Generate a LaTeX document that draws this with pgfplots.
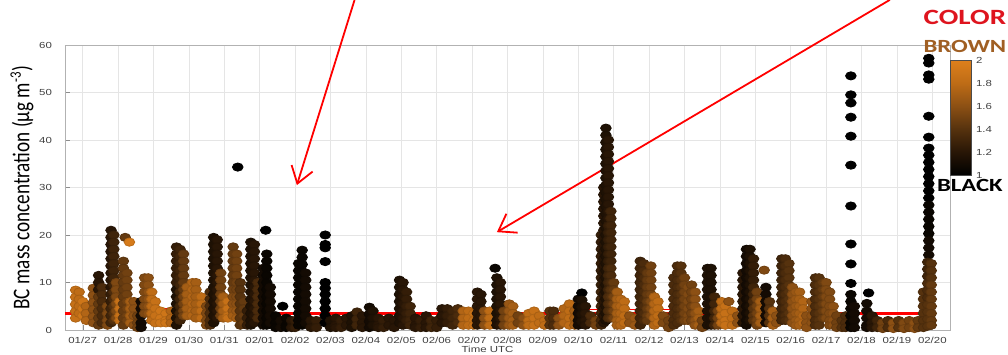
\documentclass[border=0pt]{standalone}
\usepackage{pgfplots}
\pgfplotsset{compat=1.18}
\usetikzlibrary{arrows.meta}
\usepackage{fontspec}
\setmainfont{Liberation Sans}
\newfontfamily\tickfont[FakeStretch=1.3]{Liberation Sans}
\newfontfamily\calib[FakeStretch=1.33]{Carlito}
\newfontfamily\ylabfont[FakeStretch=0.8]{Carlito}
\definecolor{brownlab}{RGB}{160,95,35}
\definecolor{redlab}{RGB}{222,20,30}
\pgfplotsset{
  colormap={blackbrown}{rgb255=(0,0,0) rgb255=(40,22,6) rgb255=(86,50,14) rgb255=(140,80,20) rgb255=(190,108,22) rgb255=(222,128,28)}
}
\begin{document}
\begin{tikzpicture}
\begin{axis}[
  scale only axis, width=442.5pt, height=142.5pt,
  xmin=-0.5, xmax=24.5, ymin=0, ymax=60,
  xtick={0,...,24},
  xticklabels={01/27,01/28,01/29,01/30,01/31,02/01,02/02,02/03,02/04,02/05,02/06,02/07,02/08,02/09,02/10,02/11,02/12,02/13,02/14,02/15,02/16,02/17,02/18,02/19,02/20},
  ytick={0,10,...,60},
  grid=major, grid style={black!10, line width=0.4pt},
  axis line style={black!30}, tick style={black!45},
  tick align=inside, major tick length=2.5pt,
  xtick pos=bottom, ytick pos=left,
  /pgf/number format/assume math mode=true,
  ticklabel style={font=\tickfont\fontsize{4.4}{5}\selectfont, text=black!75},
  xticklabel style={anchor=center, yshift=-5pt},
  yticklabel style={xshift=-3pt},
  xlabel={Time UTC},
  every axis x label/.style={at={(axis description cs:0.5,0)}, xshift=-10pt, yshift=-9.5pt, anchor=center, font=\tickfont\fontsize{4.4}{5}\selectfont, text=black!75},
  ylabel={BC mass concentration (µg m\textsuperscript{-3})},
  every axis y label/.style={at={(axis description cs:0,0.5)}, xshift=-21.5pt, rotate=90, anchor=center, font=\ylabfont\fontsize{12}{13}\selectfont},
  colormap name=blackbrown,
  point meta min=1, point meta max=2,
  colorbar,
  colorbar shift/.style={},
  colorbar style={at={(parent axis.north east)}, anchor=north west, xshift=0pt, yshift=-7.5pt,
    width=10.5pt, height=57.5pt, scale only axis,
    ytick={1,1.2,1.4,1.6,1.8,2},
    yticklabels={1,1.2,1.4,1.6,1.8,2},
    axis line style={black!70}, major tick length=0pt,
    yticklabel style={font=\tickfont\fontsize{4.4}{5}\selectfont, text=black!75, xshift=-1pt}},
  clip=false,
]
\addplot[scatter, only marks, mark=*, mark size=2.05pt, mark options={xscale=1.3},
  point meta=explicit,
  scatter/use mapped color={draw=mapped color!88!black, fill=mapped color}]
  table[row sep=\\, x=t, y=y, meta=c] {
t y c\\
-0.2 8.4 1.85\\ -0.2 6.9 1.85\\ -0.2 5.4 1.85\\ -0.2 3.9 1.85\\ -0.2 2.5 1.85\\
-0.1 8 1.8\\ -0.1 6.5 1.8\\ -0.1 5 1.8\\ -0.1 3.5 1.8\\
0 6 1.9\\ 0 4.5 1.9\\ 0 3 1.9\\
0.1 5 1.75\\ 0.1 3.5 1.75\\ 0.1 2 1.75\\
0.3 8.8 1.6\\ 0.3 7.3 1.6\\ 0.3 5.8 1.6\\ 0.3 4.3 1.6\\ 0.3 2.8 1.6\\ 0.3 1.5 1.6\\
0.45 11.5 1.2\\ 0.45 10 1.2\\ 0.45 8.5 1.2\\ 0.45 7 1.45\\ 0.45 5.5 1.45\\ 0.45 4 1.45\\ 0.45 2.5 1.45\\ 0.45 1 1.45\\
0.55 9 1.35\\ 0.55 7.5 1.35\\ 0.55 6 1.35\\ 0.55 4.5 1.35\\ 0.55 3 1.35\\ 0.55 1.5 1.35\\
0.7 5 1.55\\ 0.7 3.5 1.55\\ 0.7 2 1.55\\ 0.7 1 1.55\\
0.8 21 1.2\\ 0.8 19.5 1.2\\ 0.8 18 1.2\\ 0.8 16.5 1.2\\ 0.8 15 1.2\\ 0.8 13.5 1.2\\ 0.8 12 1.2\\ 0.8 10.5 1.2\\ 0.8 9 1.2\\ 0.8 7.5 1.25\\ 0.8 6 1.25\\ 0.8 4.5 1.3\\ 0.8 3 1.3\\ 0.8 1.5 1.3\\
0.88 20 1.3\\ 0.88 18.5 1.3\\ 0.88 17 1.3\\ 0.88 15.5 1.3\\ 0.88 14 1.3\\ 0.88 12.5 1.3\\ 0.88 11 1.3\\ 0.88 9.5 1.3\\ 0.88 8 1.35\\ 0.88 6.5 1.35\\ 0.88 5 1.4\\ 0.88 3.5 1.4\\ 0.88 2 1.4\\
0.95 10 1.55\\ 0.95 8.5 1.55\\ 0.95 7 1.55\\ 0.95 5.5 1.55\\ 0.95 4 1.55\\ 0.95 2.5 1.55\\
1.05 6 1.85\\ 1.05 4.5 1.85\\ 1.05 3 1.85\\ 1.05 2 1.85\\
1.15 14.5 1.45\\ 1.15 13 1.45\\ 1.15 11.5 1.45\\ 1.15 10 1.45\\ 1.15 8.5 1.45\\ 1.15 7 1.45\\ 1.15 5.5 1.45\\ 1.15 4 1.45\\ 1.15 2.5 1.45\\ 1.15 1 1.45\\
1.2 19.5 1.45\\
1.25 12 1.5\\ 1.25 10.5 1.5\\ 1.25 9 1.5\\ 1.25 7.5 1.5\\ 1.25 6 1.5\\ 1.25 4.5 1.5\\ 1.25 3 1.5\\ 1.25 2 1.5\\
1.32 18.5 1.95\\
1.35 6 1.7\\ 1.35 4.5 1.7\\ 1.35 3 1.7\\ 1.35 1.5 1.7\\
1.45 6 1.6\\ 1.45 4.5 1.6\\ 1.45 3 1.6\\ 1.45 1 1.6\\
1.55 3 1.5\\ 1.55 1.5 1.5\\ 1.55 0.5 1.5\\
1.65 6 1.1\\ 1.65 4.5 1.1\\ 1.65 3 1.1\\ 1.65 1.5 1.1\\ 1.65 0.5 1.1\\
1.75 11 1.55\\ 1.75 9.5 1.55\\ 1.75 8 1.55\\ 1.75 6.5 1.55\\ 1.75 5 1.55\\ 1.75 3.5 1.55\\
1.85 11 1.6\\ 1.85 9.5 1.6\\ 1.85 8 1.6\\ 1.85 6.5 1.6\\ 1.85 5 1.6\\ 1.85 3.5 1.6\\
1.95 8 1.8\\ 1.95 6.5 1.8\\ 1.95 5 1.8\\ 1.95 3.5 1.8\\ 1.95 2 1.8\\
2.05 6 1.85\\ 2.05 4.5 1.85\\ 2.05 3 1.85\\ 2.05 1.5 1.85\\
2.2 4 1.9\\ 2.2 2.5 1.9\\ 2.2 1.5 1.9\\
2.35 3.5 1.9\\ 2.35 2 1.9\\ 2.35 1.5 1.9\\
2.5 4 1.75\\ 2.5 2.5 1.75\\ 2.5 1.5 1.75\\
2.65 17.5 1.25\\ 2.65 16 1.25\\ 2.65 14.5 1.25\\ 2.65 13 1.25\\ 2.65 11.5 1.25\\ 2.65 10 1.25\\ 2.65 8.5 1.15\\ 2.65 7 1.15\\ 2.65 5.5 1.15\\ 2.65 4 1.15\\ 2.65 2.5 1.15\\ 2.65 1 1.15\\
2.75 17 1.3\\ 2.75 15.5 1.3\\ 2.75 14 1.3\\ 2.75 12.5 1.3\\ 2.75 11 1.3\\ 2.75 9.5 1.3\\ 2.75 8 1.3\\ 2.75 6.5 1.3\\ 2.75 5 1.3\\ 2.75 3.5 1.3\\ 2.75 2 1.3\\
2.85 16 1.45\\ 2.85 14.5 1.45\\ 2.85 13 1.45\\ 2.85 11.5 1.45\\ 2.85 10 1.45\\ 2.85 8.5 1.45\\ 2.85 7 1.5\\ 2.85 5.5 1.5\\ 2.85 4 1.5\\ 2.85 3 1.5\\
2.95 9 1.7\\ 2.95 7.5 1.7\\ 2.95 6 1.7\\ 2.95 4.5 1.7\\ 2.95 3 1.7\\
3.1 10 1.75\\ 3.1 8.5 1.75\\ 3.1 7 1.75\\ 3.1 5.5 1.75\\ 3.1 4 1.75\\ 3.1 3 1.75\\
3.2 10 1.7\\ 3.2 8.5 1.7\\ 3.2 7 1.7\\ 3.2 5.5 1.7\\ 3.2 4 1.7\\ 3.2 2.5 1.7\\
3.35 7 1.8\\ 3.35 5.5 1.8\\ 3.35 4 1.8\\ 3.35 2.5 1.8\\
3.5 5 1.55\\ 3.5 3.5 1.55\\ 3.5 2 1.55\\ 3.5 1 1.55\\
3.6 8 1.35\\ 3.6 6.5 1.35\\ 3.6 5 1.35\\ 3.6 3.5 1.35\\ 3.6 2 1.35\\ 3.6 1 1.35\\
3.7 19.5 1.15\\ 3.7 18 1.15\\ 3.7 16.5 1.15\\ 3.7 15 1.15\\ 3.7 13.5 1.15\\ 3.7 12 1.15\\ 3.7 10.5 1.15\\ 3.7 9 1.15\\ 3.7 7.5 1.15\\ 3.7 6 1.15\\ 3.7 4.5 1.15\\ 3.7 3 1.15\\ 3.7 1.5 1.15\\
3.8 19 1.2\\ 3.8 17.5 1.2\\ 3.8 16 1.2\\ 3.8 14.5 1.2\\ 3.8 13 1.2\\ 3.8 11.5 1.2\\ 3.8 10 1.2\\ 3.8 8.5 1.2\\ 3.8 7 1.2\\ 3.8 5.5 1.2\\ 3.8 4 1.2\\ 3.8 2.5 1.2\\
3.9 12 1.5\\ 3.9 10.5 1.5\\ 3.9 9 1.5\\ 3.9 7.5 1.5\\ 3.9 6 1.5\\ 3.9 4.5 1.5\\ 3.9 3 1.5\\
3.97 7 1.7\\ 3.97 5.5 1.7\\ 3.97 4 1.7\\ 3.97 2.5 1.7\\
4.1 6 1.85\\ 4.1 4.5 1.85\\ 4.1 3 1.85\\ 4.1 2.5 1.85\\
4.25 17.5 1.45\\ 4.25 16 1.45\\ 4.25 14.5 1.45\\ 4.25 13 1.45\\ 4.25 11.5 1.45\\ 4.25 10 1.45\\ 4.25 8.5 1.5\\ 4.25 7 1.55\\ 4.25 5.5 1.6\\ 4.25 4 1.65\\ 4.25 3 1.7\\
4.35 16 1.5\\ 4.35 14.5 1.5\\ 4.35 13 1.5\\ 4.35 11.5 1.5\\ 4.35 10 1.5\\ 4.35 8.5 1.5\\ 4.35 7 1.55\\ 4.35 5.5 1.6\\ 4.35 4 1.65\\ 4.35 2.5 1.7\\
4.38 34.3 1.0\\
4.45 10 1.4\\ 4.45 8.5 1.4\\ 4.45 7 1.4\\ 4.45 5.5 1.4\\ 4.45 4 1.4\\ 4.45 2.5 1.4\\ 4.45 1 1.4\\
4.55 6 1.45\\ 4.55 4.5 1.45\\ 4.55 3 1.45\\ 4.55 1.5 1.45\\
4.65 4 1.25\\ 4.65 2.5 1.25\\ 4.65 1 1.25\\
4.75 18.5 1.15\\ 4.75 17 1.15\\ 4.75 15.5 1.15\\ 4.75 14 1.15\\ 4.75 12.5 1.15\\ 4.75 11 1.15\\ 4.75 9.5 1.15\\ 4.75 8 1.15\\ 4.75 6.5 1.15\\ 4.75 5 1.15\\ 4.75 3.5 1.15\\ 4.75 2 1.15\\ 4.75 1 1.15\\
4.85 18 1.2\\ 4.85 16.5 1.2\\ 4.85 15 1.2\\ 4.85 13.5 1.2\\ 4.85 12 1.2\\ 4.85 10.5 1.2\\ 4.85 9 1.2\\ 4.85 7.5 1.2\\ 4.85 6 1.2\\ 4.85 4.5 1.2\\ 4.85 3 1.2\\ 4.85 1.5 1.2\\
4.95 10 1.35\\ 4.95 8.5 1.35\\ 4.95 7 1.35\\ 4.95 5.5 1.35\\ 4.95 4 1.35\\ 4.95 2.5 1.35\\
5.1 13 1.1\\ 5.1 11.5 1.1\\ 5.1 10 1.1\\ 5.1 8.5 1.1\\ 5.1 7 1.1\\ 5.1 5.5 1.1\\ 5.1 4 1.1\\ 5.1 2.5 1.1\\ 5.1 1 1.1\\
5.17 21 1.0\\
5.2 16 1.05\\ 5.2 14.5 1.05\\ 5.2 13 1.05\\ 5.2 11.5 1.05\\ 5.2 10 1.05\\ 5.2 8.5 1.05\\ 5.2 7 1.05\\ 5.2 5.5 1.05\\ 5.2 4 1.05\\ 5.2 2.5 1.05\\ 5.2 1 1.05\\
5.3 9 1.1\\ 5.3 7.5 1.1\\ 5.3 6 1.1\\ 5.3 4.5 1.1\\ 5.3 3 1.1\\ 5.3 1.5 1.1\\
5.45 3 1.05\\ 5.45 1.5 1.05\\ 5.45 0.5 1.05\\
5.6 2 1.1\\ 5.6 0.5 1.1\\
5.65 5 1.0\\
5.75 2.5 1.05\\ 5.75 1 1.05\\ 5.75 0.5 1.05\\
5.9 2 1.2\\ 5.9 0.5 1.2\\
6 2 1.25\\ 6 0.5 1.25\\
6.1 14 1.05\\ 6.1 12.5 1.05\\ 6.1 11 1.05\\ 6.1 9.5 1.05\\ 6.1 8 1.05\\ 6.1 6.5 1.05\\ 6.1 5 1.05\\ 6.1 3.5 1.05\\ 6.1 2 1.05\\ 6.1 1 1.05\\
6.2 16.8 1.05\\ 6.2 15.3 1.05\\ 6.2 13.8 1.05\\ 6.2 12.3 1.05\\ 6.2 10.8 1.05\\ 6.2 9.3 1.05\\ 6.2 7.8 1.05\\ 6.2 6.3 1.05\\ 6.2 4.8 1.05\\ 6.2 3.3 1.05\\ 6.2 1.8 1.05\\ 6.2 1 1.05\\
6.3 12 1.1\\ 6.3 10.5 1.1\\ 6.3 9 1.1\\ 6.3 7.5 1.1\\ 6.3 6 1.1\\ 6.3 4.5 1.1\\ 6.3 3 1.1\\ 6.3 1.5 1.1\\
6.45 2 1.2\\ 6.45 0.5 1.2\\
6.6 2 1.25\\ 6.6 0.5 1.25\\
6.85 20 1.0\\ 6.85 18 1.0\\ 6.85 17.3 1.0\\ 6.85 14.4 1.0\\ 6.85 10 1.0\\ 6.85 8.8 1.0\\ 6.85 7.5 1.0\\ 6.85 6 1.0\\ 6.85 4.5 1.0\\ 6.85 3 1.0\\ 6.85 1.5 1.0\\
7 2 1.15\\ 7 0.5 1.15\\
7.15 2.5 1.2\\ 7.15 1 1.2\\ 7.15 0.5 1.2\\
7.3 2 1.25\\ 7.3 0.5 1.25\\
7.45 2.5 1.2\\ 7.45 1 1.2\\
7.6 3 1.15\\ 7.6 1.5 1.15\\ 7.6 0.5 1.15\\
7.75 3.8 1.3\\ 7.75 2.3 1.3\\ 7.75 1 1.3\\
7.9 3 1.2\\ 7.9 1.5 1.2\\ 7.9 0.5 1.2\\
8.1 4.8 1.1\\ 8.1 3.3 1.1\\ 8.1 1.8 1.1\\ 8.1 0.5 1.1\\
8.2 4 1.15\\ 8.2 2.5 1.15\\ 8.2 1 1.15\\
8.35 2.5 1.2\\ 8.35 1 1.2\\ 8.35 0.5 1.2\\
8.5 2 1.25\\ 8.5 0.5 1.25\\
8.65 2.5 1.2\\ 8.65 1 1.2\\
8.8 2 1.2\\ 8.8 0.5 1.2\\
8.95 10.5 1.15\\ 8.95 9 1.15\\ 8.95 7.5 1.15\\ 8.95 6 1.15\\ 8.95 4.5 1.15\\ 8.95 3 1.15\\ 8.95 1.5 1.15\\
9.05 10 1.2\\ 9.05 8.5 1.2\\ 9.05 7 1.2\\ 9.05 5.5 1.2\\ 9.05 4 1.2\\ 9.05 2.5 1.2\\ 9.05 1 1.2\\
9.15 8 1.25\\ 9.15 6.5 1.25\\ 9.15 5 1.25\\ 9.15 3.5 1.25\\ 9.15 2 1.25\\
9.25 5 1.3\\ 9.25 3.5 1.3\\ 9.25 2 1.3\\ 9.25 1 1.3\\
9.4 2.5 1.2\\ 9.4 1 1.2\\ 9.4 0.5 1.2\\
9.55 2 1.25\\ 9.55 0.5 1.25\\
9.7 3 1.2\\ 9.7 1.5 1.2\\ 9.7 0.5 1.2\\
9.85 2 1.3\\ 9.85 0.5 1.3\\
10 2 1.25\\ 10 0.5 1.25\\
10.15 4.5 1.2\\ 10.15 3 1.2\\ 10.15 1.5 1.2\\
10.3 4.5 1.25\\ 10.3 3 1.25\\ 10.3 1.5 1.25\\
10.45 4 1.3\\ 10.45 2.5 1.3\\ 10.45 1 1.3\\
10.6 4.5 1.35\\ 10.6 3 1.35\\ 10.6 1.5 1.35\\
10.75 4 1.75\\ 10.75 2.5 1.75\\ 10.75 1 1.75\\
10.9 4 1.8\\ 10.9 2.5 1.8\\ 10.9 1 1.8\\
11.05 3.5 1.85\\ 11.05 2 1.85\\ 11.05 1 1.85\\
11.15 8 1.2\\ 11.15 6.5 1.2\\ 11.15 5 1.2\\ 11.15 3.5 1.2\\ 11.15 2 1.2\\ 11.15 1 1.2\\
11.25 7.5 1.2\\ 11.25 6 1.2\\ 11.25 4.5 1.2\\ 11.25 3 1.2\\ 11.25 1.5 1.2\\
11.35 4 1.6\\ 11.35 2.5 1.6\\ 11.35 1 1.6\\
11.5 4 1.8\\ 11.5 2.5 1.8\\ 11.5 1 1.8\\
11.65 13 1.05\\
11.7 11 1.15\\ 11.7 9.5 1.15\\ 11.7 8 1.15\\ 11.7 6.5 1.15\\ 11.7 5 1.15\\ 11.7 3.5 1.15\\ 11.7 2 1.15\\ 11.7 1 1.15\\
11.8 10 1.2\\ 11.8 8.5 1.2\\ 11.8 7 1.2\\ 11.8 5.5 1.2\\ 11.8 4 1.2\\ 11.8 2.5 1.2\\ 11.8 1 1.2\\
11.9 4 1.5\\ 11.9 2.5 1.5\\ 11.9 1 1.5\\
12.05 5.5 1.65\\ 12.05 4 1.65\\ 12.05 2.5 1.65\\ 12.05 1 1.65\\
12.15 5 1.7\\ 12.15 3.5 1.7\\ 12.15 2 1.7\\ 12.15 1 1.7\\
12.3 3 1.5\\ 12.3 1.5 1.5\\
12.45 2.5 1.6\\ 12.45 1 1.6\\
12.6 3.5 1.8\\ 12.6 2 1.8\\ 12.6 1 1.8\\
12.75 4 1.85\\ 12.75 2.5 1.85\\ 12.75 1 1.85\\
12.9 3 1.8\\ 12.9 1.5 1.8\\
13.05 2 1.8\\ 13.05 1 1.8\\
13.2 4 1.4\\ 13.2 2.5 1.4\\ 13.2 1 1.4\\
13.3 4 1.35\\ 13.3 2.5 1.35\\ 13.3 1 1.35\\
13.45 2.5 1.6\\ 13.45 1 1.6\\
13.6 4.5 1.75\\ 13.6 3 1.75\\ 13.6 1.5 1.75\\
13.75 5.5 1.8\\ 13.75 4 1.8\\ 13.75 2.5 1.8\\ 13.75 1 1.8\\
13.9 4 1.7\\ 13.9 2.5 1.7\\ 13.9 1 1.7\\
14 6.5 1.1\\ 14 5 1.1\\ 14 3.5 1.1\\ 14 2 1.1\\ 14 1 1.1\\
14.1 7.8 1.0\\ 14.1 6.3 1.15\\ 14.1 4.8 1.15\\ 14.1 3.3 1.15\\ 14.1 1.8 1.15\\
14.2 5 1.2\\ 14.2 3.5 1.2\\ 14.2 2 1.2\\ 14.2 1 1.2\\
14.35 3 1.35\\ 14.35 1.5 1.35\\
14.5 2 1.5\\ 14.5 1 1.5\\
14.65 20 1.25\\ 14.65 18.5 1.25\\ 14.65 17 1.25\\ 14.65 15.5 1.25\\ 14.65 14 1.25\\ 14.65 12.5 1.25\\ 14.65 11 1.25\\ 14.65 9.5 1.25\\ 14.65 8 1.3\\ 14.65 6.5 1.3\\ 14.65 5 1.3\\ 14.65 3.5 1.3\\ 14.65 2 1.3\\ 14.65 1 1.3\\
14.72 30 1.2\\ 14.72 28.5 1.2\\ 14.72 27 1.2\\ 14.72 25.5 1.2\\ 14.72 24 1.2\\ 14.72 22.5 1.2\\ 14.72 21 1.2\\ 14.72 19.5 1.2\\ 14.72 18 1.2\\ 14.72 16.5 1.2\\ 14.72 15 1.2\\ 14.72 13.5 1.2\\ 14.72 12 1.2\\ 14.72 10.5 1.2\\ 14.72 9 1.2\\ 14.72 7.5 1.2\\ 14.72 6 1.2\\ 14.72 4.5 1.2\\ 14.72 3 1.2\\ 14.72 1.5 1.2\\
14.78 42.5 1.15\\ 14.78 41 1.15\\ 14.78 39.5 1.15\\ 14.78 38 1.15\\ 14.78 36.5 1.15\\ 14.78 35 1.15\\ 14.78 33.5 1.15\\ 14.78 32 1.15\\ 14.78 30.5 1.15\\ 14.78 29 1.15\\ 14.78 27.5 1.15\\ 14.78 26 1.15\\ 14.78 24.5 1.15\\ 14.78 23 1.15\\ 14.78 21.5 1.15\\ 14.78 20 1.15\\ 14.78 18.5 1.15\\ 14.78 17 1.15\\ 14.78 15.5 1.15\\ 14.78 14 1.15\\ 14.78 12.5 1.15\\ 14.78 11 1.15\\ 14.78 9.5 1.15\\ 14.78 8 1.15\\ 14.78 6.5 1.15\\ 14.78 5 1.15\\ 14.78 3.5 1.15\\ 14.78 2 1.15\\
14.85 40 1.2\\ 14.85 38.5 1.2\\ 14.85 37 1.2\\ 14.85 35.5 1.2\\ 14.85 34 1.2\\ 14.85 32.5 1.2\\ 14.85 31 1.2\\ 14.85 29.5 1.2\\ 14.85 28 1.2\\ 14.85 26.5 1.2\\ 14.85 25 1.2\\ 14.85 23.5 1.2\\ 14.85 22 1.25\\ 14.85 20.5 1.25\\ 14.85 19 1.25\\ 14.85 17.5 1.25\\ 14.85 16 1.25\\ 14.85 14.5 1.25\\ 14.85 13 1.3\\ 14.85 11.5 1.3\\ 14.85 10 1.3\\ 14.85 8.5 1.3\\ 14.85 7 1.35\\ 14.85 5.5 1.35\\ 14.85 4 1.35\\ 14.85 2.5 1.35\\
14.92 25 1.3\\ 14.92 23.5 1.3\\ 14.92 22 1.3\\ 14.92 20.5 1.3\\ 14.92 19 1.3\\ 14.92 17.5 1.3\\ 14.92 16 1.3\\ 14.92 14.5 1.3\\ 14.92 13 1.35\\ 14.92 11.5 1.35\\ 14.92 10 1.35\\ 14.92 8.5 1.4\\ 14.92 7 1.4\\ 14.92 5.5 1.4\\ 14.92 4 1.4\\ 14.92 2.5 1.4\\
15 10 1.45\\ 15 8.5 1.45\\ 15 7 1.5\\ 15 5.5 1.5\\ 15 4 1.5\\ 15 2.5 1.5\\
15.1 8 1.7\\ 15.1 6.5 1.7\\ 15.1 5 1.7\\ 15.1 3.5 1.7\\ 15.1 2 1.7\\ 15.1 1 1.7\\
15.2 6.5 1.75\\ 15.2 5 1.75\\ 15.2 3.5 1.75\\ 15.2 2 1.75\\ 15.2 1 1.75\\
15.3 6 1.8\\ 15.3 4.5 1.8\\ 15.3 3 1.8\\ 15.3 1.5 1.8\\
15.45 3 1.6\\ 15.45 1.5 1.6\\
15.6 2.5 1.65\\ 15.6 1 1.65\\
15.75 14.5 1.3\\ 15.75 13 1.3\\ 15.75 11.5 1.3\\ 15.75 10 1.3\\ 15.75 8.5 1.3\\ 15.75 7 1.3\\ 15.75 5.5 1.3\\ 15.75 4 1.3\\ 15.75 2.5 1.3\\ 15.75 1 1.3\\
15.85 14 1.35\\ 15.85 12.5 1.35\\ 15.85 11 1.35\\ 15.85 9.5 1.35\\ 15.85 8 1.35\\ 15.85 6.5 1.35\\ 15.85 5 1.35\\ 15.85 3.5 1.35\\ 15.85 2 1.35\\
15.95 12 1.45\\ 15.95 10.5 1.45\\ 15.95 9 1.45\\ 15.95 7.5 1.45\\ 15.95 6 1.45\\ 15.95 4.5 1.45\\ 15.95 3 1.45\\ 15.95 2 1.45\\
16.05 13.5 1.5\\ 16.05 12 1.5\\ 16.05 10.5 1.5\\ 16.05 9 1.5\\ 16.05 7.5 1.5\\ 16.05 6 1.55\\ 16.05 4.5 1.55\\ 16.05 3 1.55\\
16.15 7 1.75\\ 16.15 5.5 1.75\\ 16.15 4 1.75\\ 16.15 2.5 1.75\\ 16.15 1 1.75\\
16.25 6 1.8\\ 16.25 4.5 1.8\\ 16.25 3 1.8\\ 16.25 1.5 1.8\\
16.4 3 1.55\\ 16.4 1.5 1.55\\
16.55 2 1.5\\ 16.55 0.5 1.5\\
16.7 11 1.35\\ 16.7 9.5 1.35\\ 16.7 8 1.35\\ 16.7 6.5 1.35\\ 16.7 5 1.35\\ 16.7 3.5 1.35\\ 16.7 2 1.35\\ 16.7 1 1.35\\
16.8 13.5 1.35\\ 16.8 12 1.35\\ 16.8 10.5 1.35\\ 16.8 9 1.35\\ 16.8 7.5 1.35\\ 16.8 6 1.35\\ 16.8 4.5 1.35\\ 16.8 3 1.35\\ 16.8 1.5 1.35\\
16.9 13.5 1.4\\ 16.9 12 1.4\\ 16.9 10.5 1.4\\ 16.9 9 1.4\\ 16.9 7.5 1.4\\ 16.9 6 1.4\\ 16.9 4.5 1.4\\ 16.9 3 1.4\\ 16.9 2 1.4\\
17 11 1.5\\ 17 9.5 1.5\\ 17 8 1.5\\ 17 6.5 1.5\\ 17 5 1.5\\ 17 3.5 1.5\\ 17 2 1.5\\
17.1 9 1.55\\ 17.1 7.5 1.55\\ 17.1 6 1.55\\ 17.1 4.5 1.55\\ 17.1 3 1.55\\ 17.1 2 1.55\\
17.2 9.5 1.5\\ 17.2 8 1.5\\ 17.2 6.5 1.5\\ 17.2 5 1.5\\ 17.2 3.5 1.5\\ 17.2 2 1.5\\
17.3 8 1.6\\ 17.3 6.5 1.6\\ 17.3 5 1.6\\ 17.3 3.5 1.6\\ 17.3 2 1.6\\ 17.3 1 1.6\\
17.4 4 1.7\\ 17.4 2.5 1.7\\ 17.4 1 1.7\\
17.5 2 1.5\\ 17.5 0.5 1.5\\
17.65 13 1.15\\ 17.65 11.5 1.15\\ 17.65 10 1.15\\ 17.65 8.5 1.15\\ 17.65 7 1.15\\ 17.65 5.5 1.15\\ 17.65 4 1.15\\ 17.65 2.5 1.15\\ 17.65 1 1.15\\
17.75 13 1.15\\ 17.75 11.5 1.15\\ 17.75 10 1.15\\ 17.75 8.5 1.15\\ 17.75 7 1.15\\ 17.75 5.5 1.15\\ 17.75 4 1.15\\ 17.75 2.5 1.15\\ 17.75 1 1.15\\
17.85 7 1.3\\ 17.85 5.5 1.3\\ 17.85 4 1.3\\ 17.85 2.5 1.3\\ 17.85 1 1.3\\
17.95 4 1.5\\ 17.95 2.5 1.5\\ 17.95 1 1.5\\
18.05 6 1.8\\ 18.05 4.5 1.8\\ 18.05 3 1.8\\ 18.05 1.5 1.8\\
18.15 5 1.85\\ 18.15 3.5 1.85\\ 18.15 2 1.85\\ 18.15 1 1.85\\
18.25 6 1.6\\
18.35 4 1.8\\ 18.35 2.5 1.8\\ 18.35 1 1.8\\
18.5 3 1.6\\ 18.5 1.5 1.6\\
18.65 12 1.2\\ 18.65 10.5 1.2\\ 18.65 9 1.2\\ 18.65 7.5 1.2\\ 18.65 6 1.2\\ 18.65 4.5 1.2\\ 18.65 3 1.2\\ 18.65 1.5 1.2\\
18.75 17 1.1\\ 18.75 15.5 1.1\\ 18.75 14 1.1\\ 18.75 12.5 1.1\\ 18.75 11 1.1\\ 18.75 9.5 1.1\\ 18.75 8 1.1\\ 18.75 6.5 1.1\\ 18.75 5 1.1\\ 18.75 3.5 1.1\\ 18.75 2 1.1\\ 18.75 1 1.1\\
18.85 17 1.15\\ 18.85 15.5 1.15\\ 18.85 14 1.15\\ 18.85 12.5 1.15\\ 18.85 11 1.15\\ 18.85 9.5 1.15\\ 18.85 8 1.15\\ 18.85 6.5 1.15\\ 18.85 5 1.15\\ 18.85 3.5 1.15\\ 18.85 2 1.15\\
18.95 15 1.25\\ 18.95 13.5 1.25\\ 18.95 12 1.25\\ 18.95 10.5 1.25\\ 18.95 9 1.3\\ 18.95 7.5 1.3\\ 18.95 6 1.35\\ 18.95 4.5 1.4\\ 18.95 3 1.4\\ 18.95 2 1.4\\
19.05 8 1.5\\ 19.05 6.5 1.5\\ 19.05 5 1.5\\ 19.05 3.5 1.5\\ 19.05 2 1.5\\ 19.05 1 1.5\\
19.15 6 1.7\\ 19.15 4.5 1.7\\ 19.15 3 1.7\\ 19.15 1.5 1.7\\
19.25 12.6 1.55\\
19.3 9 1.1\\ 19.3 7.5 1.1\\ 19.3 6 1.1\\ 19.3 4.5 1.1\\ 19.3 3 1.1\\ 19.3 1.5 1.1\\
19.4 6 1.4\\ 19.4 4.5 1.4\\ 19.4 3 1.4\\ 19.4 1.5 1.4\\
19.5 4 1.7\\ 19.5 2.5 1.7\\ 19.5 1 1.7\\
19.6 3 1.6\\ 19.6 1.5 1.6\\
19.75 15 1.3\\ 19.75 13.5 1.3\\ 19.75 12 1.3\\ 19.75 10.5 1.3\\ 19.75 9 1.3\\ 19.75 7.5 1.3\\ 19.75 6 1.3\\ 19.75 4.5 1.3\\ 19.75 3 1.3\\ 19.75 2 1.3\\
19.85 15 1.35\\ 19.85 13.5 1.35\\ 19.85 12 1.35\\ 19.85 10.5 1.35\\ 19.85 9 1.35\\ 19.85 7.5 1.35\\ 19.85 6 1.35\\ 19.85 4.5 1.35\\ 19.85 3 1.35\\ 19.85 2 1.35\\
19.95 14 1.4\\ 19.95 12.5 1.4\\ 19.95 11 1.4\\ 19.95 9.5 1.4\\ 19.95 8 1.4\\ 19.95 6.5 1.4\\ 19.95 5 1.4\\ 19.95 3.5 1.4\\ 19.95 2 1.4\\
20.05 9 1.6\\ 20.05 7.5 1.6\\ 20.05 6 1.6\\ 20.05 4.5 1.6\\ 20.05 3 1.6\\ 20.05 1.5 1.6\\
20.15 8 1.65\\ 20.15 6.5 1.65\\ 20.15 5 1.65\\ 20.15 3.5 1.65\\ 20.15 2 1.65\\ 20.15 1 1.65\\
20.25 8 1.7\\ 20.25 6.5 1.7\\ 20.25 5 1.7\\ 20.25 3.5 1.7\\ 20.25 2 1.7\\ 20.25 1 1.7\\
20.35 6 1.75\\ 20.35 4.5 1.75\\ 20.35 3 1.75\\ 20.35 1.5 1.75\\
20.45 3 1.6\\ 20.45 1.5 1.6\\ 20.45 0.5 1.6\\
20.6 6 1.6\\ 20.6 4.5 1.6\\ 20.6 3 1.6\\ 20.6 1.5 1.6\\
20.7 11 1.35\\ 20.7 9.5 1.35\\ 20.7 8 1.35\\ 20.7 6.5 1.35\\ 20.7 5 1.35\\ 20.7 3.5 1.35\\ 20.7 2 1.35\\ 20.7 1 1.35\\
20.8 11 1.4\\ 20.8 9.5 1.4\\ 20.8 8 1.4\\ 20.8 6.5 1.4\\ 20.8 5 1.4\\ 20.8 3.5 1.4\\ 20.8 2 1.4\\ 20.8 1 1.4\\
20.9 10 1.45\\ 20.9 8.5 1.45\\ 20.9 7 1.45\\ 20.9 5.5 1.45\\ 20.9 4 1.45\\ 20.9 2.5 1.45\\
21 10 1.55\\ 21 8.5 1.55\\ 21 7 1.55\\ 21 5.5 1.55\\ 21 4 1.55\\ 21 2.5 1.55\\
21.1 8 1.55\\ 21.1 6.5 1.55\\ 21.1 5 1.55\\ 21.1 3.5 1.55\\ 21.1 2 1.55\\ 21.1 1 1.55\\
21.2 5 1.6\\ 21.2 3.5 1.6\\ 21.2 2 1.6\\ 21.2 1 1.6\\
21.3 3 1.5\\ 21.3 1.5 1.5\\ 21.3 0.5 1.5\\
21.45 2 1.4\\ 21.45 0.5 1.4\\
21.55 3 1.35\\ 21.55 1.5 1.35\\ 21.55 0.5 1.35\\
21.7 53.5 1.0\\ 21.7 49.5 1.0\\ 21.7 47.8 1.0\\ 21.7 44.8 1.0\\ 21.7 40.8 1.0\\ 21.7 34.7 1.0\\ 21.7 26.1 1.0\\ 21.7 18.1 1.0\\ 21.7 13.9 1.0\\ 21.7 9.8 1.0\\
21.7 7.5 1.05\\ 21.7 6 1.05\\ 21.7 4.5 1.05\\ 21.7 3 1.05\\ 21.7 1.5 1.05\\ 21.7 0.5 1.05\\
21.8 5 1.1\\ 21.8 3.5 1.1\\ 21.8 2 1.1\\ 21.8 0.5 1.1\\
22.15 5.6 1.1\\ 22.15 4 1.1\\ 22.15 2.5 1.1\\ 22.15 1 1.1\\ 22.15 0.5 1.1\\
22.2 7.8 1.0\\
22.3 3 1.2\\ 22.3 1.5 1.2\\ 22.3 0.5 1.2\\
22.45 2 1.3\\ 22.45 0.5 1.3\\
22.6 1.5 1.5\\ 22.6 0.3 1.5\\
22.75 2 1.35\\ 22.75 0.5 1.35\\
22.9 1.5 1.6\\ 22.9 0.3 1.6\\
23.05 2 1.4\\ 23.05 0.5 1.4\\
23.2 1.5 1.55\\ 23.2 0.3 1.55\\
23.35 2 1.5\\ 23.35 0.5 1.5\\
23.5 1.5 1.6\\ 23.5 0.3 1.6\\
23.6 2 1.45\\ 23.6 0.5 1.45\\
23.75 8 1.4\\ 23.75 6.5 1.4\\ 23.75 5 1.4\\ 23.75 3.5 1.4\\ 23.75 2 1.4\\ 23.75 0.5 1.4\\
23.9 57.2 1.0\\ 23.9 56.2 1.0\\ 23.9 53.7 1.0\\ 23.9 52.8 1.0\\ 23.9 45 1.0\\ 23.9 40.6 1.0\\
23.9 38.3 1.0\\ 23.9 36.8 1.0\\ 23.9 35.3 1.0\\ 23.9 33.8 1.0\\ 23.9 32.3 1.0\\ 23.9 30.8 1.0\\ 23.9 29.3 1.0\\ 23.9 27.8 1.0\\ 23.9 26.3 1.05\\ 23.9 24.8 1.05\\ 23.9 23.3 1.05\\ 23.9 21.8 1.05\\ 23.9 20.3 1.05\\ 23.9 18.8 1.1\\ 23.9 17.3 1.1\\ 23.9 15.8 1.1\\
23.87 14.3 1.3\\ 23.87 12.8 1.3\\ 23.87 11.3 1.3\\ 23.87 9.8 1.35\\ 23.87 8.3 1.35\\ 23.87 6.8 1.35\\ 23.87 5.3 1.4\\ 23.87 3.8 1.4\\ 23.87 2.3 1.4\\ 23.87 0.8 1.4\\
23.97 14 1.4\\ 23.97 12.5 1.4\\ 23.97 11 1.4\\ 23.97 9.5 1.45\\ 23.97 8 1.45\\ 23.97 6.5 1.45\\ 23.97 5 1.45\\ 23.97 3.5 1.45\\ 23.97 2 1.45\\ 23.97 1 1.45\\
};
\addplot[red, line width=0.5pt] coordinates {(-0.3,4.6) (5.2,4.6)};
\addplot[red, line width=0.5pt] coordinates {(5.2,1.6) (10.9,1.6)};
\addplot[red, line width=0.5pt] coordinates {(14.2,4.4) (19,4.4)};
\addplot[red, line width=1.6pt] coordinates {(-0.5,3.5) (24.1,3.5)};
\draw[red, line width=0.9pt, -{Straight Barb[length=8pt,width=11pt]}] (axis cs:7.68,69.5) -- (axis cs:6.05,30.5);
\draw[red, line width=0.9pt, -{Straight Barb[length=8pt,width=11pt]}] (axis cs:22.8,69.5) -- (axis cs:11.7,20.6);
\node[text=redlab, font=\calib\bfseries\fontsize{10.9}{12}\selectfont] at (axis cs:24.92,65.7) {COLOR};
\node[text=brownlab, font=\calib\bfseries\fontsize{9.3}{10}\selectfont] at (axis cs:24.92,59.6) {BROWN};
\node[text=black, font=\calib\bfseries\fontsize{9.3}{10}\selectfont] at (axis cs:25.06,30.5) {BLACK};
\coordinate (bl) at (rel axis cs:0,0);
\coordinate (tr) at (rel axis cs:1,1);
\end{axis}
\pgfresetboundingbox
\path ([shift={(-32.5pt,-12.5pt)}]bl) rectangle ([shift={(29pt,22.5pt)}]tr);
\end{tikzpicture}
\end{document}
